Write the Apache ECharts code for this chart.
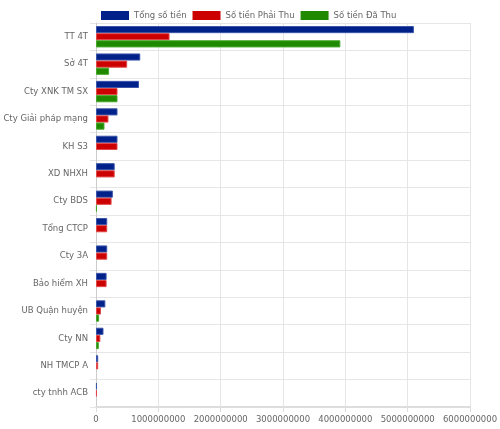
<!DOCTYPE html>
<html>
<head>
<meta charset="utf-8">
<script src="https://cdn.jsdelivr.net/npm/echarts@6/dist/echarts.min.js"></script>
<style>
  html, body { margin: 0; padding: 0; background: #fff; }
  #chart { width: 500px; height: 429px; }
</style>
</head>
<body>
<div id="chart"></div>
<script>
// danh mục
var categories = ["TT 4T", "Sở 4T", "Cty XNK TM SX", "Cty Giải pháp mạng", "KH S3", "XD NHXH", "Cty BDS",
  "Tổng CTCP", "Cty 3A", "Bảo hiểm XH", "UB Quận huyện", "Cty NN", "NH TMCP A", "cty tnhh ACB"];
var tongSoTien = [5100000000, 710000000, 690000000, 345000000, 345000000, 300000000, 270000000,
  180000000, 180000000, 170000000, 150000000, 120000000, 35000000, 15000000];
var phaiThu = [1180000000, 500000000, 345000000, 200000000, 345000000, 300000000, 250000000,
  180000000, 180000000, 170000000, 80000000, 70000000, 35000000, 15000000];
// "-" = không có giá trị
var daThu = [3920000000, 210000000, 345000000, 136000000, "-", "-", 15000000,
  "-", "-", "-", 50000000, 45000000, "-", "-"];

var chart = echarts.init(document.getElementById("chart"));

function bar(name, data, color, border) {
  return {
    name: name,
    type: "bar",
    data: data,
    barGap: "0%",
    barCategoryGap: "22%",
    itemStyle: { color: color, borderColor: border, borderWidth: 1 }
  };
}

var option = {
  animation: false,
  textStyle: { fontFamily: "DejaVu Sans" },
  legend: {
    top: 6,
    left: 96,
    itemWidth: 28,
    itemHeight: 9,
    itemGap: 6,
    icon: "rect",
    itemStyle: { borderWidth: 0 },
    textStyle: { color: "#666", fontSize: 8.5 },
    data: ["Tổng số tiền", "Số tiền Phải Thu", "Số tiền Đã Thu"]
  },
  grid: { left: 96, right: 30, top: 23, bottom: 22, outerBoundsMode: "none" },
  xAxis: {
    type: "value",
    min: 0,
    max: 6000000000,
    interval: 1000000000,
    axisLine: { show: true, lineStyle: { color: "#ddd", width: 2 } },
    axisTick: { show: true, length: 5, lineStyle: { color: "#ddd" } },
    axisLabel: { color: "#666", fontSize: 8.5, margin: 8, formatter: function (v) { return String(v); } },
    splitLine: { show: true, lineStyle: { color: "#e6e6e6" } }
  },
  yAxis: {
    type: "category",
    inverse: true,
    data: categories,
    axisLine: { show: true, lineStyle: { color: "#ccc" } },
    axisTick: { show: true, length: 6, lineStyle: { color: "#e6e6e6" } },
    axisLabel: { color: "#666", fontSize: 8.5, margin: 8 },
    splitLine: { show: true, lineStyle: { color: "#e6e6e6" } }
  },
  series: [
    bar("Tổng số tiền", tongSoTien, "#00208a", "#3a54a8"),
    bar("Số tiền Phải Thu", phaiThu, "#cc0000", "#e04848"),
    bar("Số tiền Đã Thu", daThu, "#1f8a00", "#46a82a")
  ]
};

chart.setOption(option);
</script>
</body>
</html>
